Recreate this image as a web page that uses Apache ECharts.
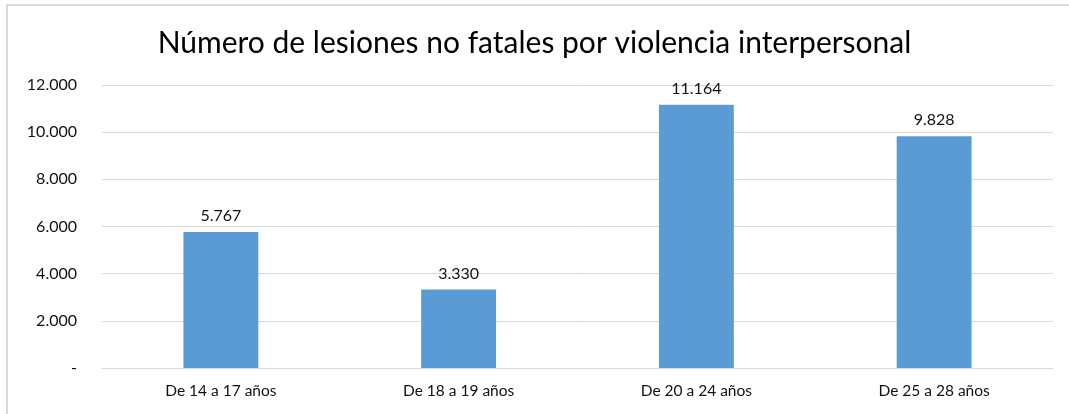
<!DOCTYPE html>
<html>
<head>
<meta charset="utf-8">
<script src="https://cdn.jsdelivr.net/npm/echarts@6/dist/echarts.min.js"></script>
<style>
  html, body { margin: 0; padding: 0; background: #fff; }
  #frame { position: absolute; left: 6px; top: 4px; width: 1063px; height: 410px;
           border-top: 2px solid #d9d9d9; border-left: 2px solid #d9d9d9; box-sizing: border-box; }
  #chart { position: absolute; left: 0; top: 0; width: 1069px; height: 414px; }
</style>
</head>
<body>
<div id="frame"></div>
<div id="chart"></div>
<script>
var chartTitle = 'Número de lesiones no fatales por violencia interpersonal';
var categories = ['De 14 a 17 años', 'De 18 a 19 años', 'De 20 a 24 años', 'De 25 a 28 años'];
var injuries = [5767, 3330, 11164, 9828];

function fmtThousands(v) {
  if (v === 0) return '-';
  return String(v).replace(/\B(?=(\d{3})+(?!\d))/g, '.');
}

var chart = echarts.init(document.getElementById('chart'));
chart.setOption({
  animation: false,
  textStyle: { fontFamily: 'Lato' },
  title: {
    text: chartTitle,
    left: 'center',
    top: 23,
    textStyle: { fontFamily: 'Lato', fontSize: 30, fontWeight: 'normal', color: '#000' }
  },
  grid: { left: 102, right: 16, top: 85, bottom: 46, containLabel: false },
  xAxis: {
    type: 'category',
    data: categories,
    axisLine: { lineStyle: { color: '#d9d9d9', width: 1 } },
    axisTick: { show: false },
    axisLabel: { color: '#111', fontSize: 15.5, margin: 15 }
  },
  yAxis: {
    type: 'value',
    min: 0,
    max: 12000,
    interval: 2000,
    axisLine: { show: false },
    axisTick: { show: false },
    splitLine: { lineStyle: { color: '#d9d9d9', width: 1 } },
    axisLabel: { color: '#111', fontSize: 16, margin: 25, formatter: fmtThousands }
  },
  series: [{
    type: 'bar',
    data: injuries,
    barWidth: '31.5%',
    itemStyle: { color: '#5b9bd5' },
    label: {
      show: true,
      position: 'top',
      distance: 8,
      color: '#111',
      fontSize: 16,
      formatter: function (p) { return fmtThousands(p.value); }
    }
  }]
});
</script>
</body>
</html>
